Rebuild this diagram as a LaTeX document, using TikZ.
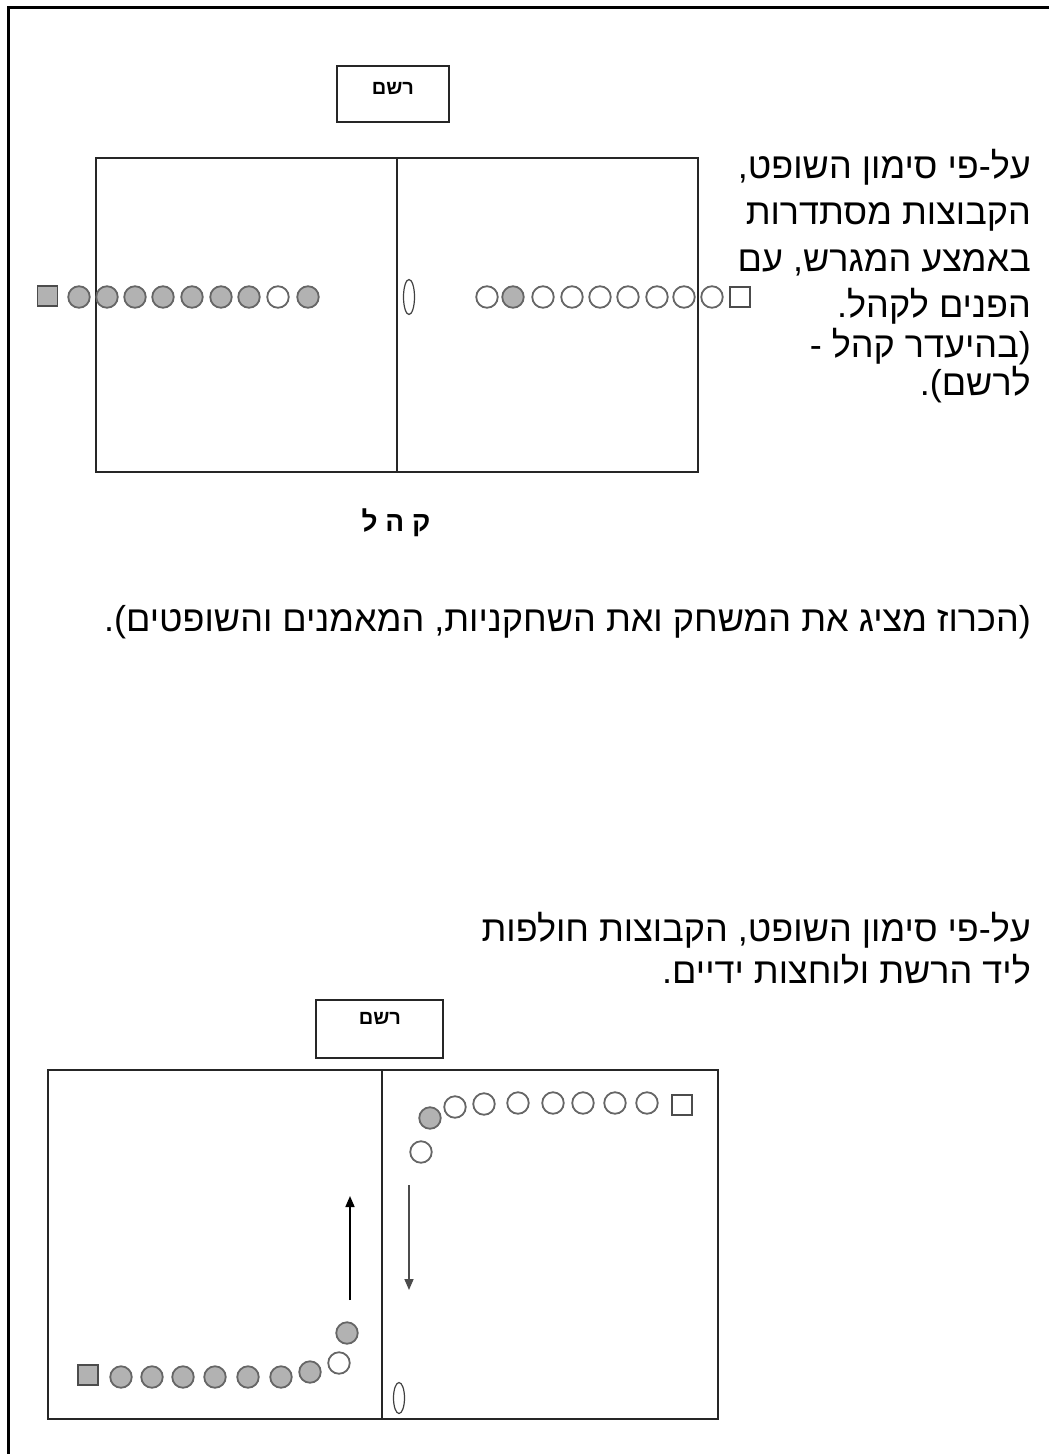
\documentclass[tikz,border=0pt]{standalone}
\usepackage{fontspec}
\setmainfont{Liberation Sans}
\newfontfamily\heb[Script=Hebrew]{Liberation Sans}
\TeXXeTstate=1
\usetikzlibrary{arrows.meta,shapes.geometric}
\begin{document}
\begin{tikzpicture}[x=1pt,y=-1pt,
  pl/.style={circle,draw=black!60,line width=1.8pt,minimum size=21.5pt,inner sep=0pt},
  gp/.style={pl,fill=black!30},
  wp/.style={pl,fill=white},
  coach/.style={rectangle,draw=black!70,line width=1.6pt,minimum size=20pt,inner sep=0pt},
  gc/.style={coach,fill=black!30},
  wc/.style={coach,fill=white},
  refl/.style={ellipse,draw=black!75,line width=1.2pt,minimum width=11pt,minimum height=35pt,inner sep=0pt},
  court/.style={draw=black!85,line width=1.3pt,inner sep=0pt},
  recbox/.style={draw=black!85,line width=1.3pt,inner sep=0pt},
  txt/.style={font=\heb\fontsize{36}{42}\selectfont,inner sep=0pt,anchor=base east},
  small/.style={font=\heb\bfseries\fontsize{20}{24}\selectfont,inner sep=0pt},
  arr/.style={line width=1.6pt,-{Triangle[length=11pt,width=9pt]}}
]
\useasboundingbox (0,0) rectangle (1049,1454);
\clip (0,0) rectangle (1049,1454);
\draw[line width=3pt] (8.5,7.5) rectangle (1100,1500);

% ---------- top diagram ----------
\node[recbox,minimum width=112pt,minimum height=56pt] (box1) at (393,94) {};
\node[small] (rec1) at (393,88) {\beginR רשם\endR};
\node[court,minimum width=602pt,minimum height=314pt] (court1) at (397,315) {};
\draw[line width=1.3pt,black!85] (court1.north) -- (court1.south);

\node[gc] (Lc) at (47.5,296) {};
\foreach \x/\s [count=\i] in {79/gp,107/gp,135/gp,163/gp,192/gp,221/gp,249/gp,278/wp,308/gp}
  \node[\s] (L\i) at (\x,297) {};
\foreach \x/\s [count=\i] in {487/wp,513/gp,543/wp,572/wp,600/wp,628/wp,657/wp,684/wp,712/wp}
  \node[\s] (R\i) at (\x,297) {};
\node[wc] (Rc) at (740,297) {};
\node[refl] (ref1) at (409,297) {};

\node[txt] (t1) at (1031,178) {\beginR על-פי סימון השופט,\endR};
\node[txt] (t2) at (1031,224) {\beginR הקבוצות מסתדרות\endR};
\node[txt] (t3) at (1031,271) {\beginR באמצע המגרש, עם\endR};
\node[txt] (t4) at (1031,317) {\beginR הפנים לקהל.\endR};
\node[txt] (t5) at (1031,357) {\beginR (בהיעדר קהל -\endR};
\node[txt] (t6) at (1031,395) {\beginR לרשם).\endR};

\node[font=\heb\bfseries\fontsize{28}{32}\selectfont,inner sep=0pt] (crowd) at (396,523) {\beginR ק ה ל\endR};
\node[txt] (ann) at (1031,631) {\beginR (הכרוז מציג את המשחק ואת השחקניות, המאמנים והשופטים).\endR};

% ---------- bottom diagram ----------
\node[txt] (b1) at (1031,941) {\beginR על-פי סימון השופט, הקבוצות חולפות\endR};
\node[txt] (b2) at (1031,983) {\beginR ליד הרשת ולוחצות ידיים.\endR};

\node[recbox,minimum width=127pt,minimum height=58pt] (box2) at (379.5,1029) {};
\node[small] (rec2) at (380,1018) {\beginR רשם\endR};
\node[court,minimum width=670pt,minimum height=349pt] (court2) at (383,1244.5) {};
\draw[line width=1.3pt,black!85] (court2.north -| 382,0) -- (court2.south -| 382,0);

\foreach \x/\y [count=\i] in {455/1107,484/1104,518/1103,553/1103,583/1103,615/1103,647/1103}
  \node[wp] (U\i) at (\x,\y) {};
\node[gp] (Ug) at (430,1118) {};
\node[wp] (Uw) at (421,1152) {};
\node[wc] (Uc) at (682,1105) {};

\node[gc] (Bc) at (88,1375) {};
\foreach \x/\y [count=\i] in {121/1377,152/1377,183/1377,215/1377,248/1377,281/1377,310/1372}
  \node[gp] (B\i) at (\x,\y) {};
\node[wp] (Bw) at (339,1363) {};
\node[gp] (Bg) at (347,1333) {};
\node[refl,minimum height=31pt] (ref2) at (399,1398) {};

\coordinate (a1s) at (350,1300);
\coordinate (a1e) at (350,1196);
\coordinate (a2s) at (409,1185);
\coordinate (a2e) at (409,1290);
\draw[arr] (a1s) -- (a1e);
\draw[arr,black!70] (a2s) -- (a2e);
\end{tikzpicture}
\end{document}
